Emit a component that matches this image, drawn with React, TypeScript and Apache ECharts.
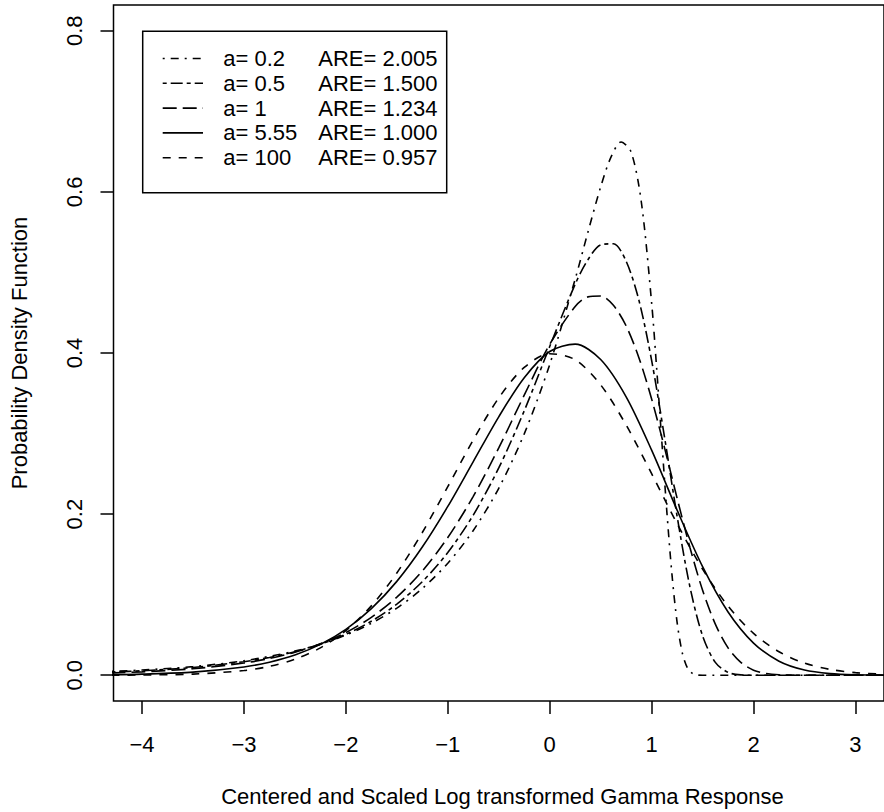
import React, { useEffect, useRef } from "react";
import * as echarts from "echarts";

// ---- data ----
const xA02 = [-4.3, -4, -3.5, -3, -2.5, -2.25, -2, -1.75, -1.5, -1.25, -1, -0.75, -0.5, -0.25, 0, 0.25, 0.375, 0.5, 0.6, 0.7, 0.8, 0.9, 1, 1.05, 1.1, 1.15, 1.2, 1.25, 1.3, 1.35, 1.4, 1.45, 1.5, 1.6, 2, 2.5, 3, 3.3];
const yA02 = [0.0047, 0.0064, 0.0107, 0.0179, 0.0299, 0.0386, 0.0499, 0.0645, 0.0833, 0.1076, 0.1391, 0.1797, 0.2321, 0.2996, 0.3857, 0.4918, 0.55, 0.6062, 0.6428, 0.6619, 0.6491, 0.5865, 0.4623, 0.3798, 0.2902, 0.2019, 0.1245, 0.0657, 0.0283, 0.0094, 0.0022, 0.0003, 0.0, 0, 0, 0, 0, 0];

const xA05 = [-4.3, -4, -3.5, -3, -2.75, -2.5, -2.25, -2, -1.75, -1.5, -1.25, -1, -0.75, -0.5, -0.25, 0, 0.25, 0.375, 0.5, 0.625, 0.75, 0.875, 1, 1.125, 1.25, 1.375, 1.5, 1.625, 1.75, 1.875, 2, 2.5, 3, 3.3];
const yA05 = [0.004, 0.0055, 0.0096, 0.0168, 0.0221, 0.0292, 0.0385, 0.0508, 0.067, 0.0883, 0.1161, 0.1523, 0.1988, 0.2573, 0.3282, 0.4081, 0.4854, 0.5157, 0.5343, 0.5356, 0.5139, 0.4656, 0.3908, 0.2967, 0.1973, 0.1102, 0.0488, 0.0159, 0.0035, 0.0004, 0.0, 0, 0, 0];

const xA1 = [-4.3, -4, -3.5, -3, -2.75, -2.5, -2.25, -2, -1.75, -1.5, -1.25, -1, -0.75, -0.5, -0.25, 0, 0.25, 0.375, 0.5, 0.625, 0.75, 0.875, 1, 1.125, 1.25, 1.375, 1.5, 1.625, 1.75, 1.875, 2, 2.125, 2.25, 2.5, 3, 3.3];
const yA1 = [0.0029, 0.0042, 0.008, 0.0152, 0.0208, 0.0285, 0.039, 0.053, 0.0719, 0.0969, 0.1294, 0.1709, 0.2221, 0.2822, 0.3477, 0.4107, 0.4578, 0.4697, 0.4708, 0.4592, 0.4336, 0.3942, 0.3429, 0.2831, 0.2198, 0.1589, 0.1055, 0.0635, 0.034, 0.0159, 0.0063, 0.0021, 0.0006, 0.0, 0, 0];

const xA555 = [-4.3, -4, -3.5, -3, -2.75, -2.5, -2.25, -2, -1.75, -1.5, -1.25, -1, -0.75, -0.5, -0.25, 0, 0.25, 0.5, 0.75, 1, 1.25, 1.5, 1.75, 2, 2.25, 2.5, 2.75, 3, 3.3];
const yA555 = [0.0007, 0.0014, 0.0039, 0.0102, 0.0162, 0.0251, 0.0383, 0.057, 0.0827, 0.1165, 0.1591, 0.2095, 0.2652, 0.3208, 0.3693, 0.4019, 0.411, 0.3919, 0.3456, 0.2794, 0.2049, 0.1348, 0.0785, 0.0399, 0.0174, 0.0064, 0.002, 0.0005, 0.0001];

const xA100 = [-4.3, -4, -3.5, -3, -2.75, -2.5, -2.25, -2, -1.75, -1.5, -1.25, -1, -0.75, -0.5, -0.25, 0, 0.25, 0.5, 0.75, 1, 1.25, 1.5, 1.75, 2, 2.25, 2.5, 2.75, 3, 3.3];
const yA100 = [0.0001, 0.0003, 0.0014, 0.0058, 0.011, 0.0198, 0.034, 0.0555, 0.0861, 0.1269, 0.1772, 0.234, 0.2922, 0.3442, 0.3821, 0.3991, 0.3916, 0.3604, 0.3106, 0.2502, 0.1881, 0.1317, 0.0858, 0.0519, 0.0291, 0.015, 0.0072, 0.0032, 0.0011];

const X_TICKS = [-4, -3, -2, -1, 0, 1, 2, 3];
const Y_TICKS = [0, 0.2, 0.4, 0.6, 0.8];
const LEGEND_A = ["0.2", "0.5", "1", "5.55", "100"];
const LEGEND_ARE = ["2.005", "1.500", "1.234", "1.000", "0.957"];
const X_TITLE = "Centered and Scaled Log transformed Gamma Response";
const Y_TITLE = "Probability Density Function";

// ---- styles ----
const U = 2;
const DASHES: (number[] | null)[] = [
  [1 * U, 3 * U, 4 * U, 3 * U], // dotdash
  [2 * U, 2 * U, 6 * U, 2 * U], // twodash
  [7 * U, 3 * U], // longdash
  null, // solid
  [4 * U, 4 * U], // dashed
];
const FONT = "'Liberation Sans', Arial, Helvetica, sans-serif";
const LW = 1.6;

const pairs = (xs: number[], ys: number[]) => xs.map((x, i) => [x, ys[i]]);

export default function App() {
  const ref = useRef<HTMLDivElement>(null);
  useEffect(() => {
    if (!ref.current) return;
    const chart = echarts.init(ref.current, null, { renderer: "svg" });
    const seriesData = [
      pairs(xA02, yA02),
      pairs(xA05, yA05),
      pairs(xA1, yA1),
      pairs(xA555, yA555),
      pairs(xA100, yA100),
    ];
    const series = seriesData.map((d, i) => ({
      type: "line",
      data: d,
      showSymbol: false,
      symbol: "none",
      smooth: 0.3,
      clip: true,
      lineStyle: {
        color: "#000",
        width: LW,
        type: DASHES[i] ? DASHES[i] : "solid",
        cap: "butt",
      },
      z: 3,
    }));

    const legendLeft = 142.7;
    const legendTop = 31.3;
    const rowY0 = 58.5;
    const rowStep = 24.8;
    const graphic: any[] = [
      {
        type: "rect",
        shape: { x: legendLeft, y: legendTop, width: 304, height: 161.4 },
        style: { fill: "#fff", stroke: "#000", lineWidth: 1.5 },
        z: 10,
      },
    ];
    LEGEND_A.forEach((a, i) => {
      const y = rowY0 + i * rowStep;
      graphic.push({
        type: "line",
        shape: { x1: 162.7, y1: y, x2: 203, y2: y },
        style: {
          stroke: "#000",
          lineWidth: LW,
          lineDash: DASHES[i] ? DASHES[i] : null,
          lineCap: "butt",
        },
        z: 11,
      });
      graphic.push({
        type: "text",
        x: 223.3,
        y: y,
        style: {
          text: "a= " + a,
          fontSize: 22,
          fontFamily: FONT,
          fill: "#000",
          align: "left",
          verticalAlign: "middle",
        },
        z: 11,
      });
      graphic.push({
        type: "text",
        x: 318.3,
        y: y,
        style: {
          text: "ARE= " + LEGEND_ARE[i],
          fontSize: 22,
          fontFamily: FONT,
          fill: "#000",
          align: "left",
          verticalAlign: "middle",
        },
        z: 11,
      });
    });
    graphic.push({
      type: "text",
      x: 502.5,
      y: 796,
      style: {
        text: X_TITLE,
        fontSize: 22,
        fontFamily: FONT,
        fill: "#000",
        align: "center",
        verticalAlign: "middle",
      },
    });
    graphic.push({
      type: "text",
      x: 19,
      y: 353,
      rotation: Math.PI / 2,
      style: {
        text: Y_TITLE,
        fontSize: 22,
        fontFamily: FONT,
        fill: "#000",
        align: "center",
        verticalAlign: "middle",
      },
    });

    chart.setOption({
      animation: false,
      backgroundColor: "#fff",
      grid: {
        left: 113.5,
        top: 5,
        right: -8.5,
        bottom: 111,
        show: true,
        borderColor: "#000",
        borderWidth: 1.5,
        backgroundColor: "transparent",
        containLabel: false,
      },
      xAxis: {
        type: "value",
        min: -4.28,
        max: 3.28,
        position: "bottom",
        splitLine: { show: false },
        axisLine: { show: false, onZero: false },
        axisTick: {
          show: true,
          inside: false,
          length: 13,
          customValues: X_TICKS,
          lineStyle: { color: "#000", width: 1.5 },
        },
        axisLabel: {
          show: true,
          customValues: X_TICKS,
          margin: 32,
          fontSize: 22,
          fontFamily: FONT,
          color: "#000",
          formatter: (v: number) => (v < 0 ? "\u2212" + Math.abs(v) : String(v)),
        },
      },
      yAxis: {
        type: "value",
        min: -0.032,
        max: 0.832,
        position: "left",
        splitLine: { show: false },
        axisLine: { show: false, onZero: false },
        axisTick: {
          show: true,
          inside: false,
          length: 13,
          customValues: Y_TICKS,
          lineStyle: { color: "#000", width: 1.5 },
        },
        axisLabel: {
          show: true,
          customValues: Y_TICKS,
          rotate: 90,
          margin: 28,
          fontSize: 22,
          fontFamily: FONT,
          color: "#000",
          formatter: (v: number) => v.toFixed(1),
        },
      },
      series,
      graphic,
    });
    return () => chart.dispose();
  }, []);
  return (
    <div
      ref={ref}
      style={{ position: "fixed", left: 0, top: 0, width: 884, height: 812, background: "#fff" }}
    />
  );
}
